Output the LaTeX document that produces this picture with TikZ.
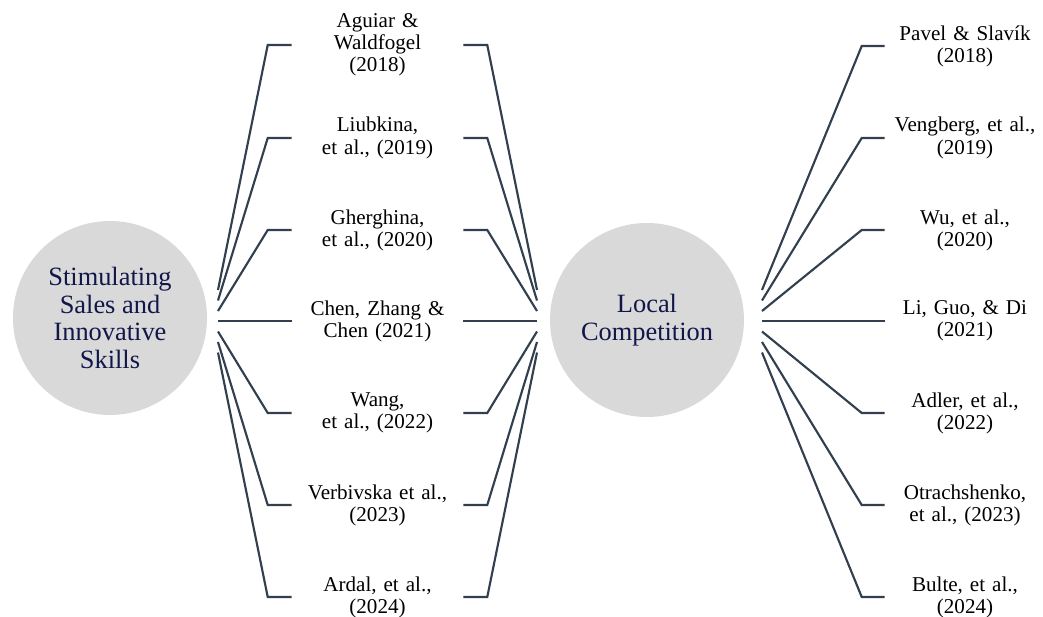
\documentclass[tikz,border=0pt]{standalone}
\usepackage{fontspec}
\setmainfont{Liberation Serif}
\definecolor{linec}{HTML}{323F4F}
\definecolor{circfill}{HTML}{D9D9D9}
\definecolor{navy}{HTML}{12174A}
\begin{document}
\begin{tikzpicture}[x=0.75pt,y=-0.75pt,
  conn/.style={draw=linec,line width=1.6pt,line join=miter},
  hub/.style={circle,fill=circfill,minimum size=145.5pt,inner sep=0pt,align=center,text=navy,font=\fontsize{19.8}{20.6}\selectfont},
  midref/.style={text width=128.25pt,inner sep=0pt,align=center,font=\fontsize{15.8}{16.6}\selectfont},
  rightref/.style={text width=120pt,inner sep=0pt,align=center,font=\fontsize{15.8}{16.6}\selectfont}]
\useasboundingbox (0,0) rectangle (1043,617);
% hubs
\node[hub] (S) at (110,318) {Stimulating\\Sales and\\Innovative\\Skills};
\node[hub] (L) at (647,320) {Local\\Competition};
% middle references
\node[midref] (m1) at (377.5,45) {Aguiar \&\\Waldfogel\\(2018)};
\node[midref] (m2) at (377.5,138) {Liubkina,\\et al., (2019)};
\node[midref] (m3) at (377.5,230) {Gherghina,\\et al., (2020)};
\node[midref] (m4) at (377.5,321) {Chen, Zhang \&\\Chen (2021)};
\node[midref] (m5) at (377.5,413) {Wang,\\et al., (2022)};
\node[midref] (m6) at (377.5,505) {Verbivska et al.,\\(2023)};
\node[midref] (m7) at (377.5,597) {Ardal, et al.,\\(2024)};
% right references
\node[rightref] (r1) at (965,46) {Pavel \& Slavík\\(2018)};
\node[rightref] (r2) at (965,138) {Vengberg, et al.,\\(2019)};
\node[rightref] (r3) at (965,230) {Wu, et al.,\\(2020)};
\node[rightref] (r4) at (965,321) {Li, Guo, \& Di\\(2021)};
\node[rightref] (r5) at (965,413) {Adler, et al.,\\(2022)};
\node[rightref] (r6) at (965,505) {Otrachshenko,\\et al., (2023)};
\node[rightref] (r7) at (965,597) {Bulte, et al.,\\(2024)};
% connector ends near hubs
\foreach \i/\yy in {1/290,2/300.5,3/311,4/321,5/331.5,6/342,7/352.5}{
  \coordinate (a\i) at (218,\yy);
  \coordinate (b\i) at (537,\yy);
  \coordinate (c\i) at (762,\yy);
}
% connectors
\foreach \i in {1,2,3,5,6,7}{
  \draw[conn] (a\i) -- ([xshift=-24*0.75pt]m\i.west) -- (m\i.west);
  \draw[conn] (b\i) -- ([xshift=24*0.75pt]m\i.east) -- (m\i.east);
  \draw[conn] (c\i) -- ([xshift=-23*0.75pt]r\i.west) -- (r\i.west);
}
\draw[conn] (a4) -- (a4 -| m4.west);
\draw[conn] (b4) -- (b4 -| m4.east);
\draw[conn] (c4) -- (c4 -| r4.west);
\end{tikzpicture}
\end{document}
